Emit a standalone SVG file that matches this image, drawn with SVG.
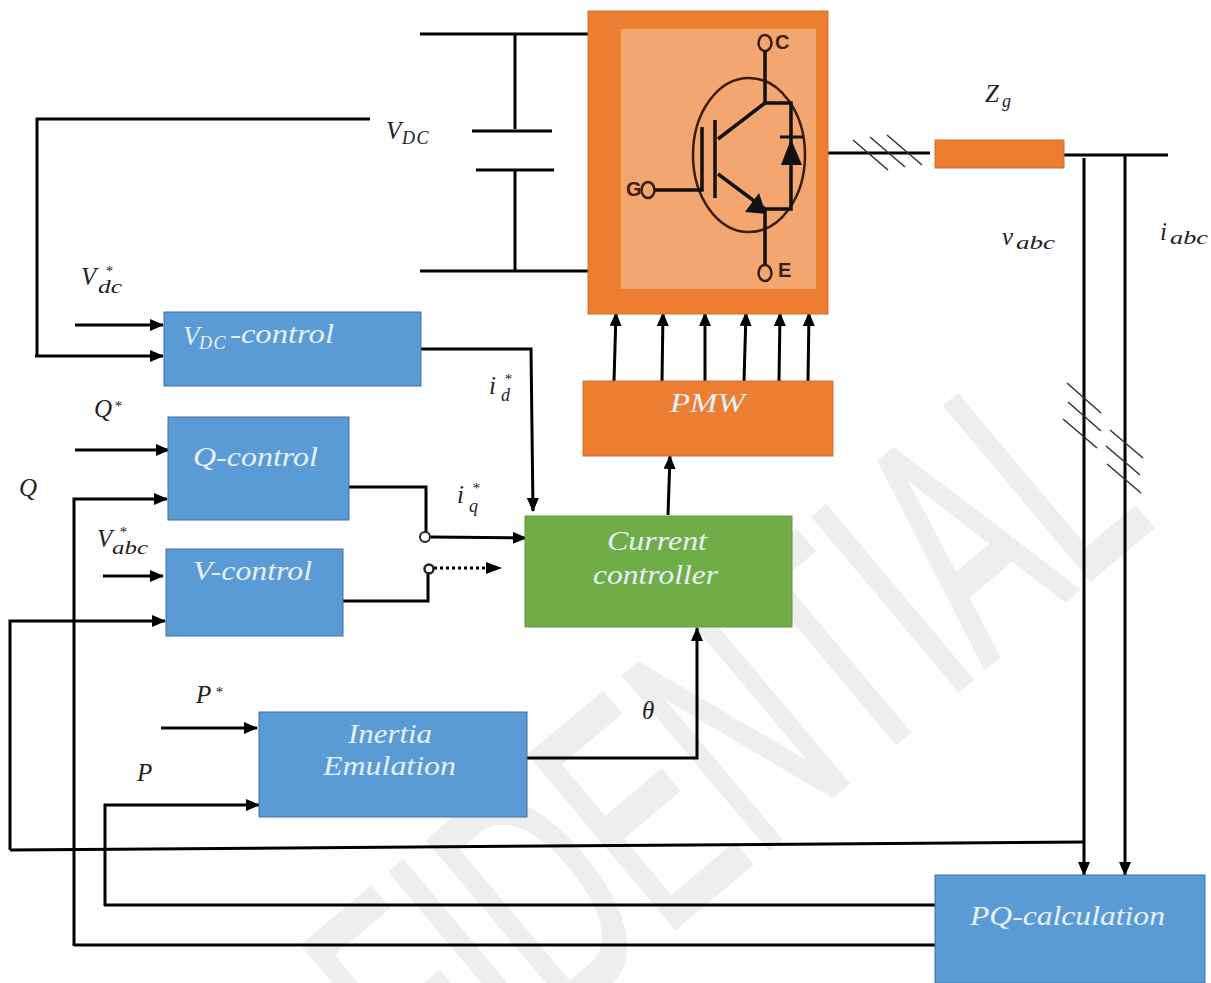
<svg xmlns="http://www.w3.org/2000/svg" width="1211" height="983" viewBox="0 0 1211 983">
<style>
.b{fill:#5b9bd5;stroke:#41719c;stroke-width:1}
.o{fill:#ed7d31;stroke:#d0702f;stroke-width:1}
.w{font-family:"Liberation Serif",serif;font-style:italic;font-size:27px;fill:#e6f1fa}
.m{font-family:"Liberation Serif",serif;font-style:italic;font-size:25px;fill:#222}
.s{font-size:18px;letter-spacing:1.5px}
.x{font-size:19px}
.u{font-size:15px}
.l{fill:none;stroke:#000;stroke-width:3}
.t{fill:none;stroke:#333;stroke-width:1.5}
.a{fill:none;stroke:#000;stroke-width:3;marker-end:url(#ah)}
.i{fill:none;stroke:#111;stroke-width:3.5}
.g{font-family:"Liberation Sans",sans-serif;font-weight:bold;font-size:20px;fill:#3a2010}
</style>
<defs><marker id="ah" markerUnits="userSpaceOnUse" markerWidth="16" markerHeight="14" refX="13" refY="6" orient="auto"><path d="M0 0L14 6L0 12Z" fill="#000"/></marker></defs>
<rect width="1211" height="983" fill="#fff"/>
<text transform="translate(436 1128) rotate(-40) scale(.563 1)" font-family="Liberation Sans,sans-serif" font-size="327" fill="#eeeeee" stroke="#eeeeee" stroke-width="5">FIDENTIAL</text>
<g id="connectors">
<path class="l" d="M420 34H590M420 271H590M515 34V129M515 170V271M472 131H552M476 170H554"/>
<path class="l" d="M370 119H37V356"/>
<path class="a" d="M35 356H163"/>
<path class="a" d="M75 325H163"/>
<path class="a" d="M421 349H531L533 511"/>
<path class="a" d="M75 450H169"/>
<path class="a" d="M74 946V499H167"/>
<path class="l" d="M74 945H936"/>
<path class="l" d="M347 487H426V532"/>
<path class="a" d="M431 537L526 538"/>
<path class="a" d="M103 576H163"/>
<path class="l" d="M343 601H428V572"/>
<path d="M434 568H490" fill="none" stroke="#000" stroke-width="3" stroke-dasharray="3 3"/>
<path d="M486 562L502 568L486 574Z" fill="#000"/>
<circle cx="425" cy="537" r="5" fill="#fff" stroke="#222" stroke-width="2"/>
<circle cx="429" cy="569" r="4.5" fill="none" stroke="#222" stroke-width="2.5"/>
<path class="a" d="M10 850V621H165"/>
<path class="l" d="M10 850L1085 842"/>
<path class="a" d="M161 728H257"/>
<path class="a" d="M105 906V805H259"/>
<path class="l" d="M104 905H936"/>
<path class="a" d="M525 758H697V628"/>
<path class="a" d="M668 515L670 456"/>
<path class="a" d="M614 381L616 313"/>
<path class="a" d="M662 381L663 313"/>
<path class="a" d="M705 381L705 313"/>
<path class="a" d="M744 381L746 313"/>
<path class="a" d="M779 381L780 313"/>
<path class="a" d="M808 381L809 313"/>
<path class="l" d="M827 153H930M1062 155H1168"/>
<path class="t" d="M853 140L888 170M870 137L905 167M887 135L922 165"/>
<path class="a" d="M1084 158V875"/>
<path class="a" d="M1125 155V875"/>
<path class="t" d="M1067 383L1101 413M1068 402L1101 431M1063 419L1097 448M1110 430L1143 458M1106 446L1140 475M1107 464L1141 493"/>
</g>
<g id="igbt">
<rect class="o" x="588" y="11" width="240" height="303"/>
<rect x="621" y="29" width="195" height="260" fill="#f4a671"/>
<ellipse cx="749" cy="155" rx="56" ry="77" fill="none" stroke="#3a1d08" stroke-width="2.5"/>
<ellipse cx="765" cy="43" rx="6.5" ry="8" fill="none" stroke="#3a1d08" stroke-width="2.5"/>
<ellipse cx="765" cy="273" rx="6.5" ry="8" fill="none" stroke="#3a1d08" stroke-width="2.5"/>
<ellipse cx="648" cy="190" rx="6.5" ry="8" fill="none" stroke="#3a1d08" stroke-width="2.5"/>
<path class="i" d="M765 51V103H791V209H765V265M765 103L718 139M718 174L765 209M715 120V198M702 127V190H655"/>
<path d="M780 137H803" stroke="#111" stroke-width="3" fill="none"/>
<path d="M791 139L781 165H802Z" fill="#111"/>
<path d="M766 214L745 212L759 193Z" fill="#111"/>
<text class="g" x="775" y="49">C</text>
<text class="g" x="778" y="277">E</text>
<text class="g" x="626" y="196">G</text>
</g>
<g id="impedance"><rect class="o" x="935" y="140" width="129" height="28"/></g>
<g id="vdc-control"><rect class="b" x="164" y="312" width="257" height="74"/><text class="w" x="183" y="345">V<tspan class="s" x="199" y="349">DC</tspan><tspan x="230" y="343" textLength="104" lengthAdjust="spacingAndGlyphs">-control</tspan></text></g>
<g id="q-control"><rect class="b" x="168" y="417" width="181" height="103"/><text class="w" x="193" y="466" textLength="125" lengthAdjust="spacingAndGlyphs">Q-control</text></g>
<g id="v-control"><rect class="b" x="166" y="549" width="177" height="87"/><text class="w" x="193" y="580" textLength="119" lengthAdjust="spacingAndGlyphs">V-control</text></g>
<g id="inertia"><rect class="b" x="259" y="712" width="268" height="105"/><text class="w" x="348" y="743" textLength="84" lengthAdjust="spacingAndGlyphs">Inertia</text><text class="w" x="323" y="775" textLength="133" lengthAdjust="spacingAndGlyphs">Emulation</text></g>
<g id="pmw"><rect class="o" x="583" y="381" width="250" height="75"/><text class="w" x="670" y="412" textLength="75" lengthAdjust="spacingAndGlyphs">PMW</text></g>
<g id="current"><rect x="525" y="516" width="267" height="111" fill="#70ad47" stroke="#5f9a3a"/><text class="w" x="607" y="550" textLength="100" lengthAdjust="spacingAndGlyphs">Current</text><text class="w" x="593" y="584" textLength="125" lengthAdjust="spacingAndGlyphs">controller</text></g>
<g id="pq"><rect class="b" x="935" y="875" width="270" height="108"/><text class="w" x="970" y="925" textLength="195" lengthAdjust="spacingAndGlyphs">PQ-calculation</text></g>
<g id="labels">
<text class="m" x="386" y="139">V<tspan class="s" x="402" y="144">DC</tspan></text>
<text class="m" x="81" y="285">V<tspan class="u" x="105" y="276">*</tspan><tspan class="x" x="98" y="293" textLength="24" lengthAdjust="spacingAndGlyphs">dc</tspan></text>
<text class="m" x="94" y="417">Q<tspan class="u" x="114" y="411">*</tspan></text>
<text class="m" x="19" y="496">Q</text>
<text class="m" x="97" y="547">V<tspan class="u" x="119" y="537">*</tspan><tspan class="x" x="112" y="554" textLength="36" lengthAdjust="spacingAndGlyphs">abc</tspan></text>
<text class="m" x="489" y="394">i<tspan class="u" x="504" y="384">*</tspan><tspan class="s" x="501" y="401">d</tspan></text>
<text class="m" x="457" y="503">i<tspan class="u" x="472" y="493">*</tspan><tspan class="s" x="469" y="512">q</tspan></text>
<text class="m" x="196" y="703">P<tspan class="u" x="215" y="697">*</tspan></text>
<text class="m" x="137" y="781">P</text>
<text class="m" x="642" y="719">θ</text>
<text class="m" x="985" y="102">Z<tspan class="s" x="1002" y="107">g</tspan></text>
<text class="m" x="1002" y="245">v<tspan class="x" x="1016" y="249" textLength="39" lengthAdjust="spacingAndGlyphs">abc</tspan></text>
<text class="m" x="1160" y="240">i<tspan class="x" x="1170" y="244" textLength="38" lengthAdjust="spacingAndGlyphs">abc</tspan></text>
</g>
</svg>
